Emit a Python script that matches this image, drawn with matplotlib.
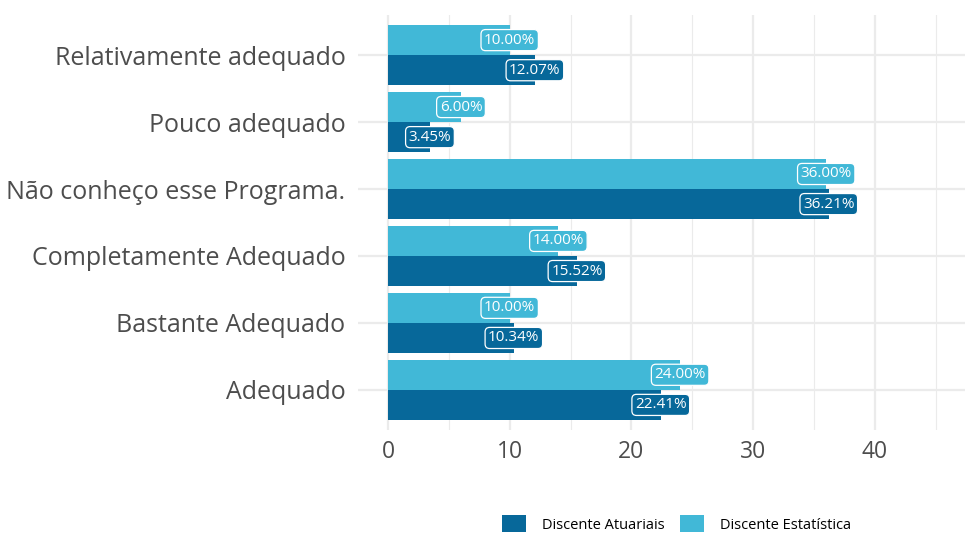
import matplotlib.pyplot as plt
import numpy as np
from matplotlib.patches import Patch

# Survey answers, bottom to top
categorias = ['Adequado', 'Bastante Adequado', 'Completamente Adequado',
              'Não conheço esse Programa.', 'Pouco adequado', 'Relativamente adequado']
atuariais = [22.41, 10.34, 15.52, 36.21, 3.45, 12.07]
estatistica = [24.00, 10.00, 14.00, 36.00, 6.00, 10.00]
grupos = ['Discente Atuariais', 'Discente Estatística']
cores = ['#07689a', '#41b8d7']

plt.rcParams['font.family'] = ['Open Sans', 'DejaVu Sans']

fig = plt.figure(figsize=(9.65, 5.34), dpi=100)
ax = fig.add_axes([358 / 965, 1 - 430 / 534, 1 - 358 / 965, (430 - 15) / 534])

y = np.arange(len(categorias))
h = 0.45
for vals, cor, off in [(atuariais, cores[0], -h / 2), (estatistica, cores[1], h / 2)]:
    ax.barh(y + off, vals, height=h, color=cor, zorder=2)
    for yi, v in zip(y + off, vals):
        ax.text(v, yi, f'{v:.2f}%', ha='center', va='center', color='white',
                fontsize=11, zorder=3,
                bbox=dict(boxstyle='round,pad=0.2,rounding_size=0.3',
                          fc=cor, ec='white', lw=0.9))

ax.set_xlim(-2.46, 47.4)
ax.set_ylim(-0.6, len(categorias) - 0.4)
ax.set_xticks([0, 10, 20, 30, 40])
ax.set_xticks([5, 15, 25, 35, 45], minor=True)
ax.set_yticks(y)
ax.set_yticklabels(categorias)
ax.grid(True, which='major', color='#ebebeb', lw=1.6, zorder=0)
ax.grid(True, which='minor', axis='x', color='#ebebeb', lw=0.8, zorder=0)
ax.tick_params(which='both', length=0)
ax.tick_params(axis='y', labelsize=18, labelcolor='#4d4d4d', pad=9)
ax.tick_params(axis='x', labelsize=16.5, labelcolor='#4d4d4d', pad=7)
for s in ax.spines.values():
    s.set_visible(False)

handles = [Patch(facecolor=c, label=g) for c, g in zip(cores, grupos)]
fig.legend(handles=handles, loc='center', bbox_to_anchor=(676.5 / 965, 10 / 534),
           ncol=2, frameon=False, fontsize=10.5, handlelength=1.64, handleheight=1.37,
           columnspacing=1.1, handletextpad=1.1)

fig.savefig('out.png', dpi=100)
